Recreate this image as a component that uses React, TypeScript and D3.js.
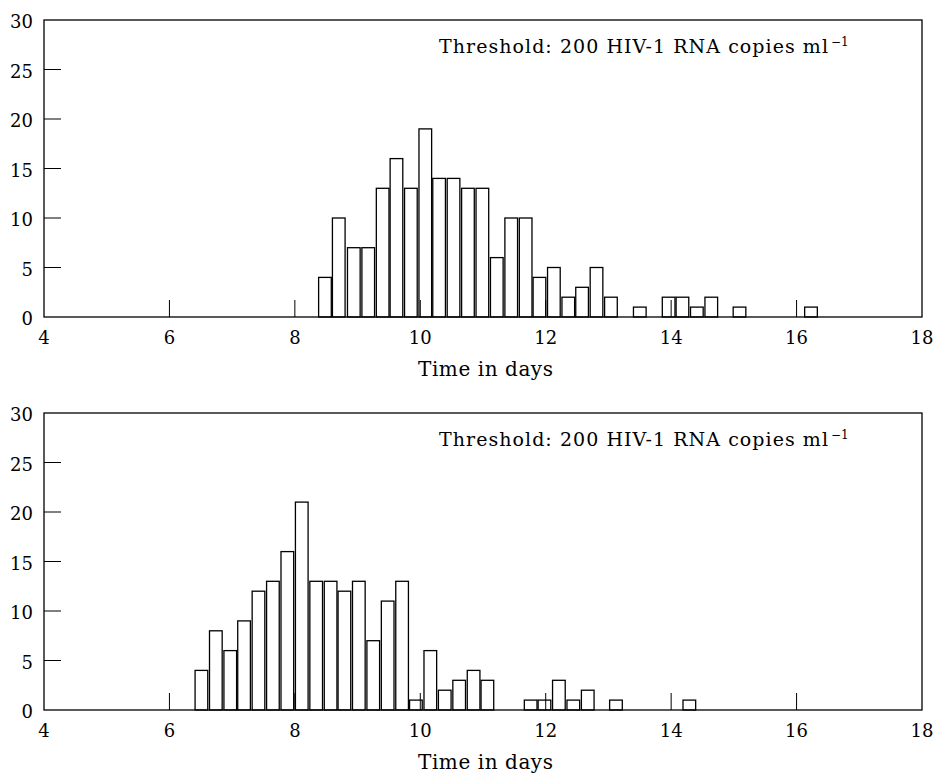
import React from "react";
import * as d3 from "d3";

// histogram bin centres (days) and counts
const topDays = [
  8.48, 8.70, 8.94, 9.17, 9.40, 9.62, 9.85, 10.08, 10.30, 10.53, 10.76, 10.99,
  11.22, 11.45, 11.68, 11.90, 12.13, 12.36, 12.58, 12.81, 13.04, 13.50, 13.96,
  14.18, 14.41, 14.64, 15.09, 16.23,
];
const topCounts = [
  4, 10, 7, 7, 13, 16, 13, 19, 14, 14, 13, 13, 6, 10, 10, 4, 5, 2, 3, 5, 2, 1,
  2, 2, 1, 2, 1, 1,
];

const bottomDays = [
  6.51, 6.74, 6.97, 7.19, 7.42, 7.65, 7.88, 8.11, 8.34, 8.57, 8.79, 9.02, 9.25,
  9.48, 9.71, 9.93, 10.16, 10.39, 10.62, 10.85, 11.07, 11.76, 11.98, 12.21,
  12.44, 12.67, 13.12, 14.29,
];
const bottomCounts = [
  4, 8, 6, 9, 12, 13, 16, 21, 13, 13, 12, 13, 7, 11, 13, 1, 6, 2, 3, 4, 3, 1, 1,
  3, 1, 2, 1, 1,
];

const xTicks = [4, 6, 8, 10, 12, 14, 16, 18];
const yTicks = [0, 5, 10, 15, 20, 25, 30];
const annotation = "Threshold: 200 HIV-1 RNA copies ml";
const xTitle = "Time in days";

const width = 936;
const height = 775;
const plotLeft = 44;
const plotRight = 922;
const plotHeight = 297;
const panelTops = [20, 413];
const halfBar = 0.101; // days
const tickLen = 17;
const font = "'DejaVu Serif', serif";

const x = d3.scaleLinear().domain([4, 18]).range([plotLeft, plotRight]);

const Panel = ({ top, days, counts }: { top: number; days: number[]; counts: number[] }) => {
  const y = d3.scaleLinear().domain([0, 30]).range([top + plotHeight, top]);
  const bottom = y(0);
  return (
    <g>
      {days.map((d, i) => (
        <rect
          key={i}
          x={x(d - halfBar)}
          y={y(counts[i])}
          width={x(d + halfBar) - x(d - halfBar)}
          height={bottom - y(counts[i])}
          fill="white"
          stroke="black"
          strokeWidth={1.3}
        />
      ))}
      {/* inner ticks */}
      {xTicks.slice(1, -1).map(t => (
        <line key={"xt" + t} x1={x(t)} x2={x(t)} y1={bottom} y2={bottom - tickLen}
          stroke="black" strokeWidth={1} />
      ))}
      {yTicks.slice(1, -1).map(t => (
        <line key={"yt" + t} x1={plotLeft} x2={plotLeft + tickLen} y1={y(t)} y2={y(t)}
          stroke="black" strokeWidth={1} />
      ))}
      <rect x={plotLeft} y={top} width={plotRight - plotLeft} height={plotHeight}
        fill="none" stroke="black" strokeWidth={1.3} />
      {xTicks.map(t => (
        <text key={"xl" + t} x={x(t)} y={bottom + 27} textAnchor="middle"
          fontFamily={font} fontSize={18}>{t}</text>
      ))}
      {yTicks.map(t => (
        <text key={"yl" + t} x={33} y={y(t) + 8} textAnchor="end"
          fontFamily={font} fontSize={18}>{t}</text>
      ))}
      <text x={439} y={top + 33} fontFamily={font} fontSize={19}>
        <tspan textLength={389} lengthAdjust="spacing">{annotation}</tspan>
        <tspan fontSize={12} dx={2} dy={-7}>−1</tspan>
      </text>
      <text x={418} y={bottom + 59} fontFamily={font} fontSize={20}
        textLength={135} lengthAdjust="spacing">{xTitle}</text>
    </g>
  );
};

export default function App() {
  return (
    <svg width={width} height={height} style={{ position: "absolute", left: 0, top: 0, background: "white" }}>
      <Panel top={panelTops[0]} days={topDays} counts={topCounts} />
      <Panel top={panelTops[1]} days={bottomDays} counts={bottomCounts} />
    </svg>
  );
}
